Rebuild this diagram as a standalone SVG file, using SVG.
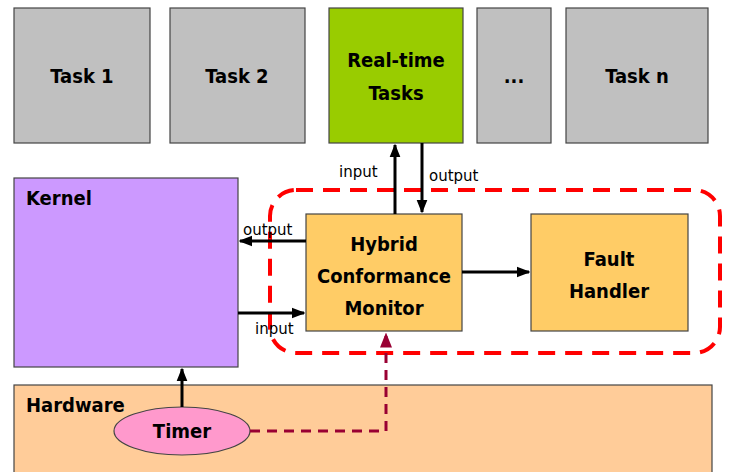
<svg xmlns="http://www.w3.org/2000/svg" width="729" height="472" viewBox="0 0 729 472">
<defs>
<style>
.box{stroke:#444;stroke-width:1.2}
.t{font-family:"DejaVu Sans Condensed","DejaVu Sans",sans-serif;font-weight:bold;font-size:20px;fill:#000;text-anchor:middle}
.lb{font-family:"DejaVu Sans",sans-serif;font-size:15px;fill:#000}
.ar{stroke:#000;stroke-width:3;fill:none}
</style>
<marker id="ah" viewBox="0 0 10 10" refX="9" refY="5" markerWidth="4.5" markerHeight="4.5" orient="auto" markerUnits="strokeWidth"><path d="M0,1 L10,5 L0,9 z" fill="#000"/></marker>
<marker id="ahr" viewBox="0 0 10 10" refX="9" refY="5" markerWidth="5" markerHeight="5" orient="auto" markerUnits="strokeWidth"><path d="M0,1 L10,5 L0,9 z" fill="#990033"/></marker>
</defs>
<rect width="729" height="472" fill="#fff"/>
<g id="hardware"><rect class="box" x="14" y="385" width="698" height="100" fill="#FFCC99"/><text class="t" x="26" y="412" style="text-anchor:start">Hardware</text></g>
<g id="task1"><rect class="box" x="14" y="8" width="136" height="135" fill="#C0C0C0"/><text class="t" x="82" y="83">Task 1</text></g>
<g id="task2"><rect class="box" x="170" y="8" width="135" height="135" fill="#C0C0C0"/><text class="t" x="237" y="83">Task 2</text></g>
<g id="realtime"><rect class="box" x="329" y="8" width="134" height="135" fill="#99CC00"/><text class="t" x="396" y="67">Real-time</text><text class="t" x="396" y="100">Tasks</text></g>
<g id="dots"><rect class="box" x="477" y="8" width="74" height="135" fill="#C0C0C0"/><text class="t" x="514" y="83">...</text></g>
<g id="taskn"><rect class="box" x="566" y="8" width="142" height="135" fill="#C0C0C0"/><text class="t" x="637" y="83">Task n</text></g>
<g id="kernel"><rect class="box" x="14" y="178" width="224" height="189" fill="#CC99FF"/><text class="t" x="26" y="205" style="text-anchor:start">Kernel</text></g>
<g id="hcm"><rect class="box" x="306" y="214" width="156" height="117" fill="#FFCC66"/><text class="t" x="384" y="251">Hybrid</text><text class="t" x="384" y="283">Conformance</text><text class="t" x="384" y="315">Monitor</text></g>
<g id="fault"><rect class="box" x="531" y="214" width="157" height="117" fill="#FFCC66"/><text class="t" x="609" y="266">Fault</text><text class="t" x="609" y="298">Handler</text></g>
<g id="timer"><ellipse cx="182" cy="431" rx="68" ry="24" fill="#FF99CC" stroke="#444" stroke-width="1.2"/><text class="t" x="182" y="438">Timer</text></g>
<g id="region"><rect x="270" y="190" width="450" height="163" rx="26" fill="none" stroke="#FF0000" stroke-width="4" stroke-dasharray="17,10"/></g>
<g id="connectors">
<line class="ar" x1="395" y1="214" x2="395" y2="145" marker-end="url(#ah)"/>
<line class="ar" x1="422" y1="143" x2="422" y2="212" marker-end="url(#ah)"/>
<line class="ar" x1="306" y1="241" x2="240" y2="241" marker-end="url(#ah)"/>
<line class="ar" x1="238" y1="313" x2="304" y2="313" marker-end="url(#ah)"/>
<line class="ar" x1="462" y1="272" x2="529" y2="272" marker-end="url(#ah)"/>
<line class="ar" x1="182" y1="407" x2="182" y2="369" marker-end="url(#ah)"/>
<path d="M250,431 H386 V334" fill="none" stroke="#990033" stroke-width="3" stroke-dasharray="10,7" marker-end="url(#ahr)"/>
<text class="lb" x="339" y="177">input</text>
<text class="lb" x="429" y="181">output</text>
<text class="lb" x="243" y="235">output</text>
<text class="lb" x="255" y="334">input</text>
</g>
</svg>
